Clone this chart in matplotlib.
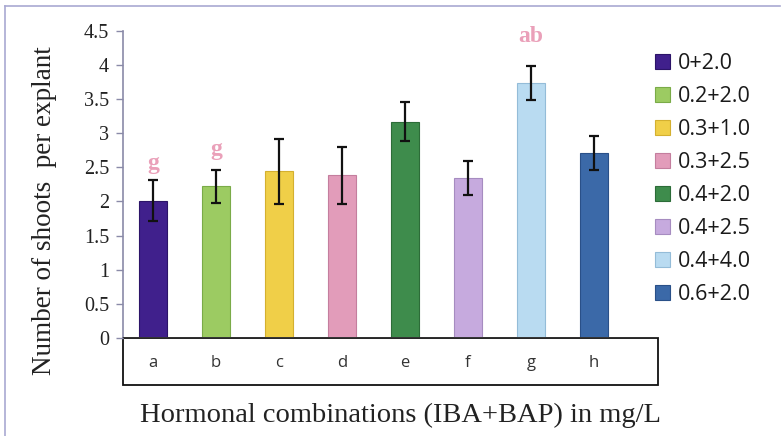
import matplotlib
matplotlib.use("Agg")
import matplotlib.pyplot as plt
from matplotlib.patches import Rectangle, Patch
from matplotlib.lines import Line2D

categories = ["a", "b", "c", "d", "e", "f", "g", "h"]
treatments = ["0+2.0", "0.2+2.0", "0.3+1.0", "0.3+2.5", "0.4+2.0", "0.4+2.5", "0.4+4.0", "0.6+2.0"]
means = [2.01, 2.22, 2.44, 2.38, 3.17, 2.34, 3.74, 2.71]
errors = [0.30, 0.24, 0.48, 0.42, 0.29, 0.25, 0.25, 0.25]
letters = {0: ("g", 2.55), 1: ("g", 2.76), 6: ("ab", 4.42)}
yticks = [0, 0.5, 1, 1.5, 2, 2.5, 3, 3.5, 4, 4.5]
ytick_labels = ["0", "0.5", "1", "1.5", "2", "2.5", "3", "3.5", "4", "4.5"]
colors = ["#40208c", "#9ccb62", "#f0cf48", "#e29cba", "#3e8c4c", "#c6aade", "#b9dbf1", "#3b69a8"]
edge_colors = ["#2c1468", "#7aab48", "#d4b030", "#c47e9e", "#2c6c38", "#a68cc0", "#94bcd8", "#2a5088"]

W, H = 782, 436
fig = plt.figure(figsize=(W / 100, H / 100), dpi=100)
fig.patch.set_facecolor("white")

# outer frame
fig.add_artist(Line2D([5 / W, 5 / W], [0, 1 - 6 / H], color="#a9a9d2", lw=1.2))
fig.add_artist(Line2D([5 / W, 780 / W], [1 - 6 / H, 1 - 6 / H], color="#a9a9d2", lw=1.2))

ax_left, ax_right, ax_top, ax_bot = 123, 658, 30.7, 338
ax = fig.add_axes([ax_left / W, 1 - ax_bot / H, (ax_right - ax_left) / W, (ax_bot - ax_top) / H])
x = list(range(len(categories)))
ax.bar(x, means, width=0.43, color=colors, edgecolor=edge_colors, linewidth=0.8, zorder=2)
ax.errorbar(x, means, yerr=errors, fmt="none", ecolor="#111111", elinewidth=1.6, capsize=3.5, capthick=1.6, zorder=3)

ax.set_xlim(-0.476, 8.016)
ax.set_ylim(0, 4.5)
ax.set_yticks(yticks)
ax.set_yticklabels(ytick_labels, fontfamily="Liberation Serif", fontsize=14.5, color="#222222")
ax.tick_params(axis="y", direction="out", length=5, width=1, color="#8a8aa8", pad=5)
ax.set_xticks([])
for s in ["top", "right", "bottom"]:
    ax.spines[s].set_visible(False)
ax.spines["left"].set_color("#8a8aa8")
ax.spines["left"].set_linewidth(1.2)
ax.axhline(0, color="#333333", lw=1.4, zorder=4)

# category box
ah = ax_bot - ax_top
box_h = (385 - 338) / ah
ax.add_patch(Rectangle((0, -box_h), 1, box_h, transform=ax.transAxes, fill=False,
                       edgecolor="#111111", lw=1.3, clip_on=False))
for i, c in enumerate(categories):
    ax.text(i, -(363 - 338) / ah * 4.5, c, ha="center", va="center", fontsize=12,
            fontfamily="Open Sans", color="#333333", clip_on=False)

for i, (t, yv) in letters.items():
    ax.text(i, yv, t, ha="center", va="center", fontsize=17, fontweight="bold",
            fontfamily="Liberation Serif", color="#eaa0b9", clip_on=False)

fig.text(45 / W, 1 - 211 / H, "Number of shoots  per explant", rotation=90, ha="center", va="center",
         fontsize=19.5, fontfamily="Liberation Serif", color="#222222")
fig.text(401 / W, 1 - 415 / H, "Hormonal combinations (IBA+BAP) in mg/L", ha="center", va="center",
         fontsize=20.5, fontfamily="Liberation Serif", color="#222222")

handles = [Patch(facecolor=c, edgecolor=e, lw=0.8) for c, e in zip(colors, edge_colors)]
leg = fig.legend(handles, treatments, loc="upper left", bbox_to_anchor=(655 / W, 1 - 53 / H),
                 frameon=False, prop={"family": "Open Sans", "size": 15.5},
                 handlelength=0.7, handleheight=0.7, handletextpad=0.35, labelspacing=0.56,
                 borderpad=0, borderaxespad=0)
for t in leg.get_texts():
    t.set_color("#1a1a1a")

fig.savefig("out.png", dpi=100, facecolor="white")
